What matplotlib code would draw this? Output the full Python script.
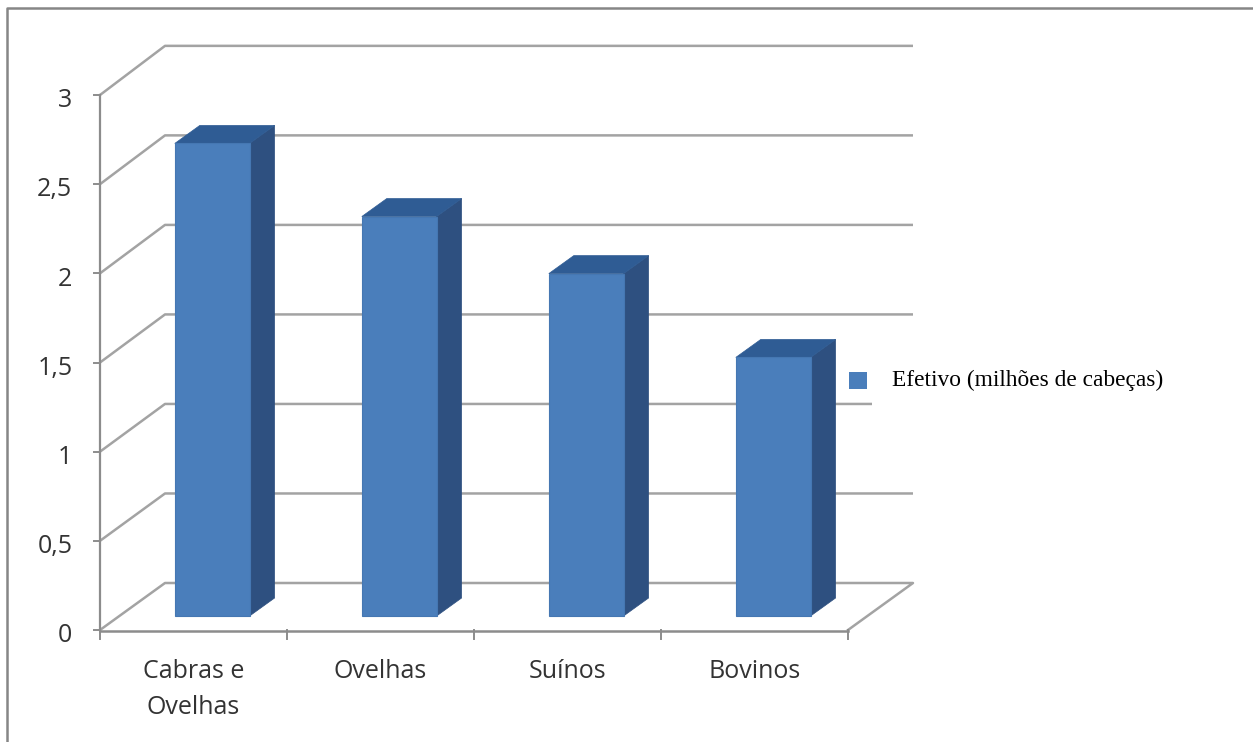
import matplotlib
matplotlib.use("Agg")
import matplotlib.pyplot as plt
from matplotlib.lines import Line2D
from matplotlib.patches import Polygon, Rectangle

# Efetivo pecuário por espécie
categories = ["Cabras e\nOvelhas", "Ovelhas", "Suínos", "Bovinos"]
values = [2.65, 2.24, 1.92, 1.45]
y_ticks = [0, 0.5, 1, 1.5, 2, 2.5, 3]
y_labels = ["0", "0,5", "1", "1,5", "2", "2,5", "3"]
legend_label = "Efetivo (milhões de cabeças)"

W, H = 1253, 742
FRONT = "#4a7ebb"
TOP = "#2f5c94"
SIDE = "#2e5080"
GRID = "#a3a3a3"
AXIS = "#8c8c8c"
TEXT = "#333333"
FONT = "Open Sans"

fig = plt.figure(figsize=(W / 100, H / 100), dpi=100, facecolor="white")

# axes span the front plane of the 3D box
left, right, top, bottom = 100, 848, 95, 630
ax = fig.add_axes([left / W, 1 - bottom / H, (right - left) / W, (bottom - top) / H])
n = len(categories)
ax.set_xlim(0, n)
ax.set_ylim(0, 3)
ax.axis("off")

# oblique depth of the box, in data units
DX = 65 / 187
DY = 47 / 178.33
REAR = 1.004  # rear plane is drawn very slightly taller


def rear_y(t):
    return t * REAR + DY


# walls: slanted gridlines running back, then along the rear plane
for t in y_ticks[1:]:
    ax.plot([0, DX, n + DX], [t, rear_y(t), rear_y(t)],
            color=GRID, lw=1.8, clip_on=False, zorder=1, solid_capstyle="butt")
ax.plot([0, DX, n + DX, n], [0, DY, DY, 0],
        color=GRID, lw=1.8, clip_on=False, zorder=1)

# axis lines and tick marks
ax.plot([0, 0], [0, 3], color=AXIS, lw=1.6, clip_on=False, zorder=2)
ax.plot([0, n], [-0.008, -0.008], color=AXIS, lw=1.8, clip_on=False, zorder=2)
for t, lab in zip(y_ticks, y_labels):
    ax.plot([-0.032, 0], [t, t], color=AXIS, lw=1.4, clip_on=False, zorder=2)
    ax.text(-0.148, t - 0.032, lab, ha="right", va="center", fontsize=18, color=TEXT,
            family=FONT)
for i in range(n + 1):
    ax.plot([i, i], [0, -0.05], color=AXIS, lw=1.4, clip_on=False, zorder=2)

# bars: front face from the values, top and side faces offset by bar depth
BAR_W = 0.40
BAR_SHIFT = 0.1
BASE = 14 / 178.33
DEPTH_X = 25 / 187
DEPTH_Y = 18 / 178.33
for i, (name, v) in enumerate(zip(categories, values)):
    x0 = i + 0.5 - BAR_W / 2 + BAR_SHIFT
    x1 = x0 + BAR_W
    ax.bar(x0, v, BAR_W, bottom=BASE, align="edge", color=FRONT, edgecolor="#4577b2",
           lw=0.8, zorder=4)
    ax.add_patch(Polygon([(x1, BASE), (x1 + DEPTH_X, BASE + DEPTH_Y),
                          (x1 + DEPTH_X, BASE + v + DEPTH_Y), (x1, BASE + v)],
                         closed=True, fc=SIDE, ec=SIDE, lw=0.5, zorder=3, clip_on=False))
    ax.add_patch(Polygon([(x0, BASE + v), (x0 + DEPTH_X, BASE + v + DEPTH_Y),
                          (x1 + DEPTH_X, BASE + v + DEPTH_Y), (x1, BASE + v)],
                         closed=True, fc=TOP, ec=TOP, lw=0.5, zorder=3, clip_on=False))
    ax.text(i + 0.5, -0.16, name, ha="center", va="top", fontsize=18, color=TEXT,
            family=FONT, linespacing=1.6)

# legend box sits over the gridlines on the right
fig.add_artist(Rectangle((872 / W, 1 - 420 / H), 370 / W, 80 / H,
                         transform=fig.transFigure, fc="white", ec="none", zorder=5))
fig.add_artist(Rectangle((849 / W, 1 - 389 / H), 18 / W, 17 / H,
                         transform=fig.transFigure, fc=FRONT, ec="none", zorder=6))
fig.text(892 / W, 1 - 380 / H, legend_label, ha="left", va="center", fontsize=16.8,
         color="black", family="Liberation Serif", zorder=6)

# chart frame, open at the right and bottom
fig.add_artist(Line2D([7 / W, 7 / W, 1], [0, 1 - 8 / H, 1 - 8 / H],
                      transform=fig.transFigure, color="#868686", lw=1.8))

fig.savefig("out.png", dpi=100, facecolor="white")
